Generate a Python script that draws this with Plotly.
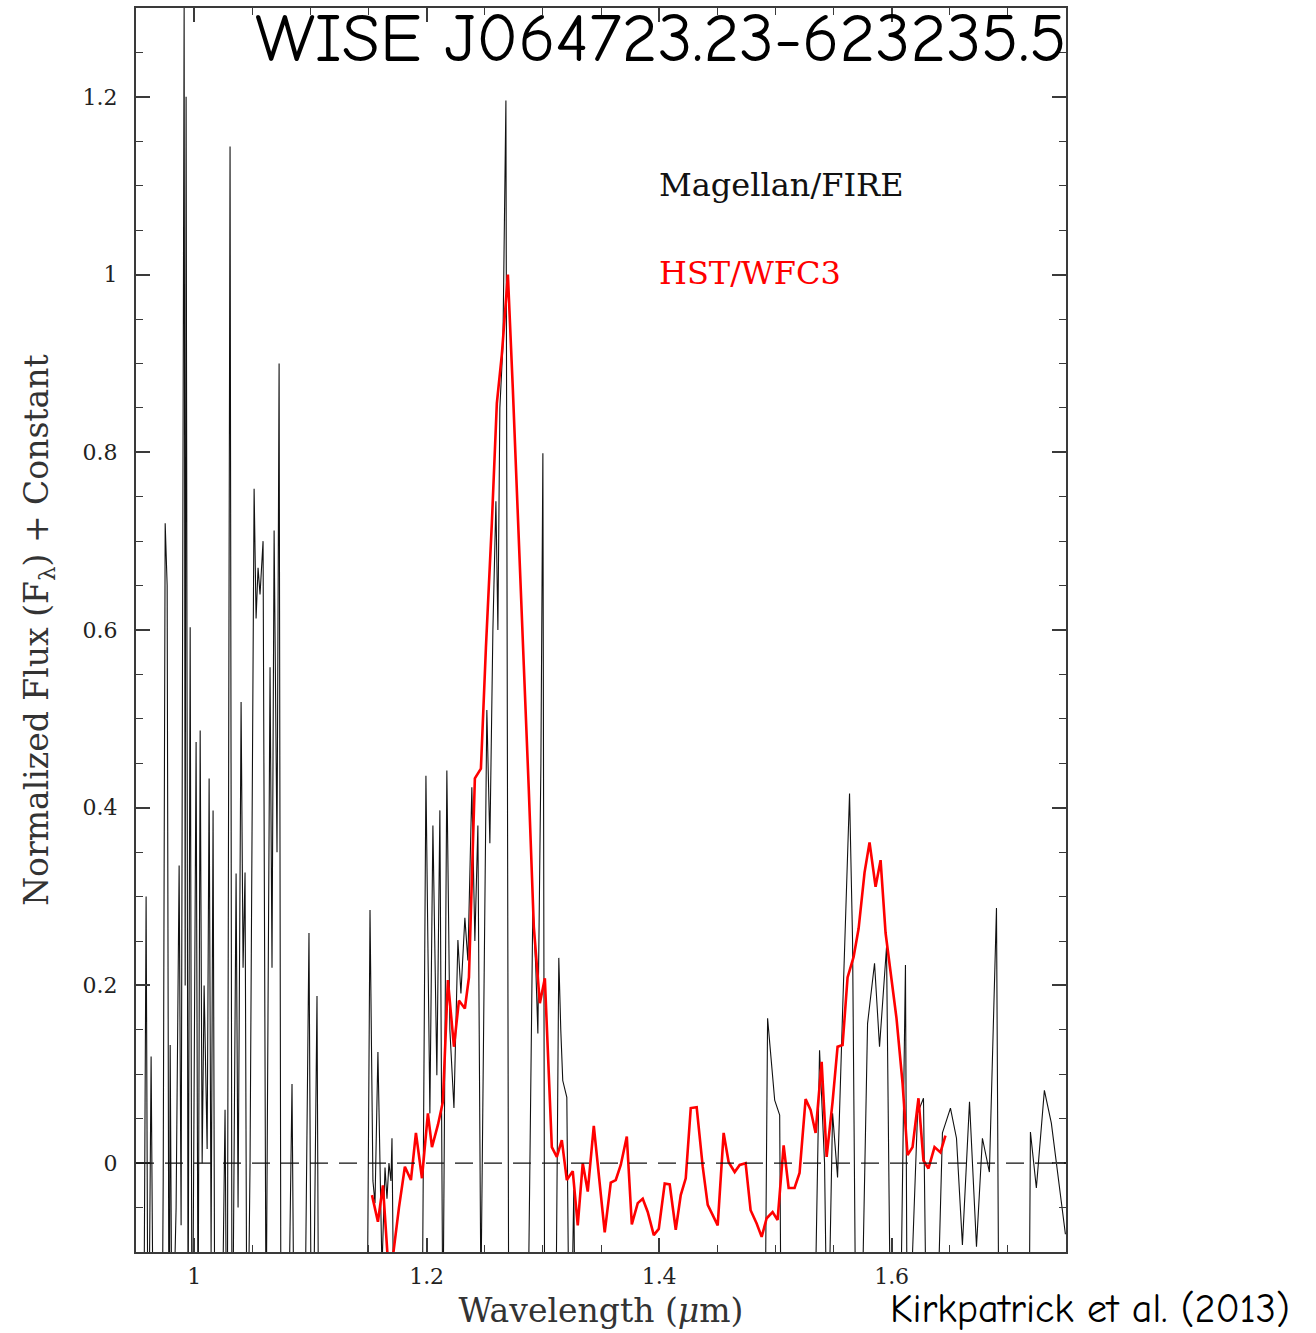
import plotly.graph_objects as go

# Magellan/FIRE spectrum (wavelength in micron, normalized flux); None marks gaps
fire_wave = [
    0.9502, 0.9562, 0.9587, 0.9605, 0.9630, 0.9656, 0.9691, 0.9716, 0.9734, 0.9751,
    0.9768, 0.9785, 0.9794, 0.9811, 0.9845, 0.9871, 0.9888, 0.9914, 0.9923, 0.9931,
    0.9948, 0.9966, 0.9983, 1.0000, 1.0017, 1.0034, 1.0052, 1.0069, 1.0086, 1.0112,
    1.0129, 1.0146, 1.0163, 1.0180, 1.0206, 1.0241, 1.0266, 1.0284, 1.0309, 1.0327,
    1.0361, 1.0378, 1.0404, 1.0421, 1.0438, 1.0456, 1.0481, 1.0516, 1.0533, 1.0550,
    1.0567, 1.0593, 1.0619, 1.0653, 1.0670, 1.0688, 1.0713, 1.0731, 1.0748, 1.0791,
    1.0842, 1.0868, 1.0911, 1.0945, 1.0988, 1.1014, 1.1057, 1.1074, 1.1300,
    1.1478, 1.1513, 1.1538, 1.1556, 1.1581, 1.1599, 1.1616, 1.1642, 1.1659, 1.1676,
    1.1693, 1.1702, 1.1719, 1.1771, 1.1839, 1.1899, 1.1951, 1.1994, 1.2028, 1.2054,
    1.2088, 1.2114, 1.2140, 1.2174, 1.2200, 1.2235, 1.2269, 1.2295, 1.2329, 1.2355,
    1.2389, 1.2415, 1.2441, 1.2467, 1.2518, 1.2544, 1.2570, 1.2596, 1.2613, 1.2630,
    1.2656, 1.2682, 1.2708, 1.2759, 1.2819, 1.2871, 1.2914, 1.2939, 1.2957, 1.2983,
    1.3000, 1.3017, 1.3068, 1.3111, 1.3137, 1.3154, 1.3171, 1.3206, 1.3232, 1.3266,
    1.3292, 1.4100,
    1.4899, 1.4933, 1.4994, 1.5037, 1.5054, 1.5122, 1.5208, 1.5294, 1.5337, 1.5380,
    1.5423, 1.5449, 1.5492, 1.5535, 1.5578, 1.5638, 1.5664, 1.5698, 1.5741, 1.5793,
    1.5853, 1.5896, 1.5956, 1.5999, 1.6059, 1.6119, 1.6137, 1.6180, 1.6223, 1.6274,
    1.6309, 1.6369, 1.6437, 1.6506, 1.6558, 1.6609, 1.6670, 1.6730, 1.6781, 1.6841,
    1.6902, 1.6927, 1.7050,
    1.7177, 1.7194, 1.7245, 1.7314, 1.7374, 1.7469, 1.7495,
]
fire_flux = [
    -0.30, -0.35, 0.300, -0.30, 0.120, -0.35, -0.25, -0.40, -0.02, 0.720,
    0.650, -0.30, 0.133, -0.25, -0.05, 0.335, -0.07, 1.300, 0.200, 1.200,
    -0.20, 0.603, -0.30, 0.120, 0.474, -0.20, 0.487, 0.000, 0.200, 0.016,
    0.433, -0.10, 0.397, -0.30, -0.40, -0.20, 0.060, -0.30, 1.144, -0.30,
    0.326, -0.05, 0.519, 0.220, 0.327, -0.30, 0.000, 0.759, 0.613, 0.670,
    0.640, 0.700, -0.20, 0.558, 0.220, 0.712, 0.350, 0.900, -0.30, -0.40,
    0.089, -0.35, -0.40, -0.30, 0.259, -0.35, 0.188, -0.30, None,
    -0.40, 0.285, -0.02, -0.045, 0.125, -0.02, -0.12, -0.005, -0.04, 0.000,
    -0.02, 0.028, -0.20, -0.40, -0.45, -0.35, -0.40, 0.436, 0.056, 0.380,
    0.099, 0.397, -0.20, 0.442, 0.150, 0.062, 0.251, 0.191, 0.276, 0.228,
    0.423, 0.250, 0.380, -0.15, 0.510, 0.360, 0.600, 0.745, 0.600, 0.850,
    0.920, 1.196, -0.30, -0.40, -0.35, -0.20, 0.293, 0.220, 0.146, 0.450,
    0.799, -0.30, -0.35, -0.20, 0.231, 0.150, 0.093, 0.074, -0.30, -0.03,
    -0.40, None,
    -0.40, 0.163, 0.071, 0.054, -0.30, -0.40, -0.35, -0.30, -0.20, 0.127,
    0.000, -0.25, 0.056, -0.016, 0.170, 0.416, 0.250, -0.30, -0.20, 0.157,
    0.225, 0.131, 0.243, -0.30, -0.35, 0.223, -0.30, -0.10, 0.056, 0.073,
    -0.30, -0.30, 0.034, 0.062, 0.028, -0.092, 0.069, -0.094, 0.028, -0.010,
    0.287, -0.30, None,
    -0.30, 0.035, -0.028, 0.082, 0.045, -0.050, -0.080,
]

# HST/WFC3 spectrum
wfc3_wave = [
    1.1530, 1.1581, 1.1624, 1.1667, 1.1710, 1.1762, 1.1813, 1.1865, 1.1908, 1.1960,
    1.2011, 1.2046, 1.2097, 1.2140, 1.2183, 1.2235, 1.2278, 1.2329, 1.2364, 1.2415,
    1.2467, 1.2510, 1.2561, 1.2604, 1.2647, 1.2699, 1.2742, 1.2785, 1.2836, 1.2879,
    1.2922, 1.2974, 1.3017, 1.3077, 1.3120, 1.3163, 1.3206, 1.3257, 1.3300, 1.3343,
    1.3386, 1.3438, 1.3532, 1.3584, 1.3627, 1.3670, 1.3722, 1.3765, 1.3816, 1.3859,
    1.3902, 1.3954, 1.3997, 1.4048, 1.4091, 1.4143, 1.4186, 1.4229, 1.4272, 1.4323,
    1.4375, 1.4418, 1.4461, 1.4504, 1.4555, 1.4598, 1.4650, 1.4693, 1.4744, 1.4787,
    1.4839, 1.4882, 1.4925, 1.4976, 1.5019, 1.5071, 1.5114, 1.5165, 1.5208, 1.5260,
    1.5303, 1.5346, 1.5398, 1.5441, 1.5492, 1.5535, 1.5578, 1.5621, 1.5673, 1.5716,
    1.5767, 1.5810, 1.5862, 1.5905, 1.5948, 1.5999, 1.6042, 1.6094, 1.6137, 1.6180,
    1.6231, 1.6274, 1.6317, 1.6369, 1.6420, 1.6463,
]
wfc3_flux = [
    -0.036, -0.066, -0.025, -0.110, -0.105, -0.050, -0.004, -0.019, 0.034, -0.017,
    0.056, 0.018, 0.043, 0.069, 0.206, 0.131, 0.183, 0.174, 0.209, 0.433,
    0.444, 0.580, 0.720, 0.855, 0.910, 1.000, 0.870, 0.720, 0.560, 0.420,
    0.266, 0.180, 0.208, 0.018, 0.007, 0.026, -0.019, -0.009, -0.070, 0.000,
    -0.032, 0.042, -0.078, -0.022, -0.019, -0.002, 0.030, -0.069, -0.045, -0.040,
    -0.055, -0.081, -0.074, -0.023, -0.024, -0.075, -0.036, -0.017, 0.062, 0.063,
    -0.004, -0.047, -0.058, -0.070, 0.034, 0.001, -0.010, -0.002, 0.000, -0.053,
    -0.068, -0.083, -0.062, -0.055, -0.064, 0.020, -0.028, -0.028, -0.011, 0.072,
    0.060, 0.034, 0.114, 0.007, 0.069, 0.131, 0.133, 0.209, 0.232, 0.264,
    0.327, 0.361, 0.311, 0.341, 0.259, 0.206, 0.163, 0.090, 0.009, 0.018,
    0.073, 0.003, -0.006, 0.018, 0.012, 0.031,
]

x_ticks = [1.0, 1.2, 1.4, 1.6]
x_tick_labels = ["1", "1.2", "1.4", "1.6"]
y_ticks = [0, 0.2, 0.4, 0.6, 0.8, 1.0, 1.2]
y_tick_labels = ["0", "0.2", "0.4", "0.6", "0.8", "1", "1.2"]

SERIF = "DejaVu Serif, Liberation Serif, serif"
HAND = "Comic Sans MS, Comic Neue, DejaVu Sans, sans-serif"
FRAME = "#3a3a3a"

fig = go.Figure()

fig.add_trace(go.Scatter(
    x=fire_wave, y=fire_flux, mode="lines", connectgaps=False,
    line=dict(color="#111111", width=1.1), name="Magellan/FIRE", showlegend=False,
))
fig.add_trace(go.Scatter(
    x=wfc3_wave, y=wfc3_flux, mode="lines",
    line=dict(color="#ff0000", width=2.6), name="HST/WFC3", showlegend=False,
))

# zero-flux reference
fig.add_hline(y=0, line=dict(color="#111111", width=1.4, dash="18px,11px"), layer="above")

axis_common = dict(
    showline=True, linecolor=FRAME, linewidth=2, mirror="allticks",
    ticks="inside", ticklen=14, tickwidth=1.6, tickcolor=FRAME,
    showgrid=False, zeroline=False,
    tickfont=dict(family=SERIF, size=22, color="#222222"),
    minor=dict(dtick=0.05, ticks="inside", ticklen=7, tickwidth=1.4,
               tickcolor=FRAME, showgrid=False),
)

fig.update_xaxes(
    range=[0.95, 1.75], tickvals=x_ticks, ticktext=x_tick_labels,
    ticklabelstandoff=4,
    title=dict(text="Wavelength (<i>μ</i>m)", standoff=10,
               font=dict(family=SERIF, size=33, color="#333333")),
    **axis_common,
)
fig.update_yaxes(
    range=[-0.1, 1.3], tickvals=y_ticks, ticktext=y_tick_labels,
    ticklabelstandoff=12,
    title=dict(text="Normalized Flux (F<sub>λ</sub>) + Constant", standoff=24,
               font=dict(family=SERIF, size=33, color="#333333")),
    **axis_common,
)

annotations = [
    dict(text="WISE J064723.23-623235.5", xref="paper", yref="paper",
         x=0.5645, y=1.0, xanchor="center", yanchor="top", yshift=11, showarrow=False,
         font=dict(family=HAND, size=69, color="#000000")),
    dict(text="Magellan/FIRE", xref="paper", yref="paper",
         x=0.5599, y=0.8578, xanchor="left", yanchor="middle", showarrow=False,
         font=dict(family=SERIF, size=32, color="#111111")),
    dict(text="HST/WFC3", xref="paper", yref="paper",
         x=0.5599, y=0.7870, xanchor="left", yanchor="middle", showarrow=False,
         font=dict(family=SERIF, size=32, color="#ff0000")),
    dict(text="Kirkpatrick et al. (2013)", xref="paper", yref="paper",
         x=1.0, y=0.0, xanchor="right", yanchor="top", xshift=226, yshift=-32,
         showarrow=False, font=dict(family=HAND, size=40, color="#000000")),
]
fig.update_layout(
    width=1316, height=1333,
    margin=dict(l=136, r=250, t=8, b=81, autoexpand=False),
    paper_bgcolor="white", plot_bgcolor="white",
    annotations=annotations,
    showlegend=False,
)

fig.write_html("out.html")
